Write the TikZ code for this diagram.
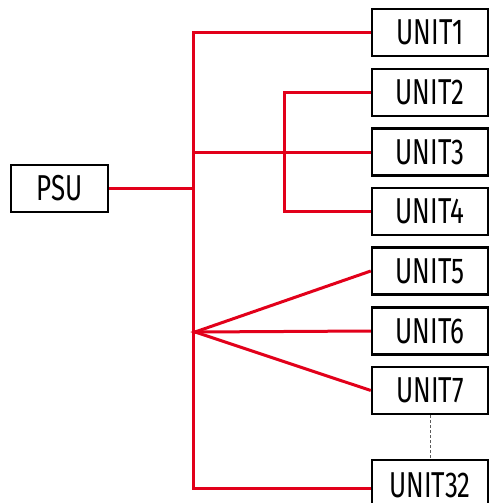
\documentclass[tikz,border=0pt]{standalone}
\usepackage{fontspec}
\setmainfont{Fira Sans}[FakeStretch=0.72]
\definecolor{wire}{RGB}{226,0,26}
\definecolor{dashgray}{RGB}{90,90,90}
\tikzset{
  box/.style={draw=black, line width=2.4pt, minimum width=116pt, minimum height=47pt, inner sep=0pt, font=\fontsize{36}{38}\selectfont},
  wireline/.style={draw=wire, line width=3pt},
}
\begin{document}
\begin{tikzpicture}[x=1pt,y=-1pt]
\useasboundingbox (0,0) rectangle (489,503);
\node[box, minimum width=97pt] (psu) at (59.5,188.5) {PSU};
\node[box] (u1) at (430,32.5) {UNIT1};
\node[box] (u2) at (430,92.5) {UNIT2};
\node[box] (u3) at (430,152) {UNIT3};
\node[box] (u4) at (430,211.5) {UNIT4};
\node[box] (u5) at (430,271) {UNIT5};
\node[box] (u6) at (430,331) {UNIT6};
\node[box] (u7) at (430,390.5) {UNIT7};
\node[box, minimum height=50pt] (u32) at (430,485) {UNIT32};
\coordinate (bus) at (193,0);
\coordinate (br) at (284,0);
\coordinate (fan) at (195,332);
\coordinate (u32in) at ([yshift=-3pt]u32.west);
\draw[wireline] (u1.west) -- (u1.west -| bus) -- (u32in -| bus) -- (u32in);
\draw[wireline] (psu.east) -- (psu.east -| bus);
\draw[wireline] (u3.west) -- (u3.west -| bus);
\draw[wireline] (u2.west) -- (u2.west -| br) -- (u4.west -| br) -- (u4.west);
\draw[wireline] (u5.west) -- (fan) -- (u7.west);
\draw[wireline] (fan) -- (u6.west);
\draw[draw=dashgray, line width=1pt, dash pattern=on 3pt off 2pt] (u7.south) -- (u32.north);
\end{tikzpicture}
\end{document}
